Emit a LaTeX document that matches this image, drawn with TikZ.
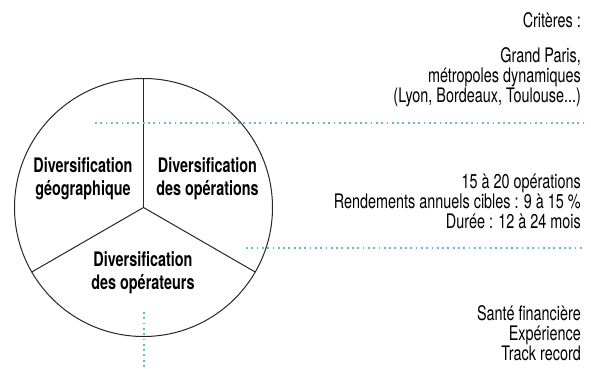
\documentclass[tikz,border=0pt]{standalone}
\usepackage{fontspec}
\setmainfont{TeX Gyre Heros}[FakeStretch=0.72]
\definecolor{teal1}{HTML}{5BBFC4}
\begin{document}
\begin{tikzpicture}[x=1pt,y=-1pt,
  lbl/.style={font=\fontsize{20}{20}\selectfont, inner sep=0pt, align=right, anchor=east},
  seg/.style={font=\fontsize{20}{22.5}\bfseries\selectfont, inner sep=0pt, align=center},
  dotline/.style={teal1, line width=1.8pt, dash pattern=on 1.8pt off 3.5pt},
  pie/.style={line width=1pt, black!85}]
\useasboundingbox (0,0) rectangle (591,369);
\coordinate (c) at (143.5,207.5);
\draw[pie] (c) circle (129);
\draw[pie] (c) -- ++(0,-129) coordinate (top);
\draw[pie] (c) -- ++(-111.7,64.5) coordinate (ll);
\draw[pie] (c) -- ++(111.7,64.5) coordinate (lr);
\node[seg] (geo) at (83,178.5) {Diversification\\géographique};
\node[seg] (ops) at (207.5,178.5) {Diversification\\des opérations};
\node[seg] (opr) at (143,272.5) {Diversification\\des opérateurs};
\node[lbl] (crit) at (581,20) {Critères :};
\node[lbl, anchor=north east] (t1) at (581,47) {Grand Paris,\\métropoles dynamiques\\(Lyon, Bordeaux, Toulouse...)};
\node[lbl, anchor=north east] (t2) at (581,174) {15 à 20 opérations\\Rendements annuels cibles : 9 à 15 \%\\Durée : 12 à 24 mois};
\node[lbl, anchor=north east] (t3) at (581,305) {Santé financière\\Expérience\\Track record};
\coordinate (a1) at (95,123);
\coordinate (a2) at (583,123);
\coordinate (b1) at (246,248);
\coordinate (b2) at (583,248);
\coordinate (v1) at (144,312);
\coordinate (v2) at (144,369);
\draw[dotline] (a1) -- (a2);
\draw[dotline] (b1) -- (b2);
\draw[dotline] (v1) -- (v2);
\end{tikzpicture}
\end{document}
